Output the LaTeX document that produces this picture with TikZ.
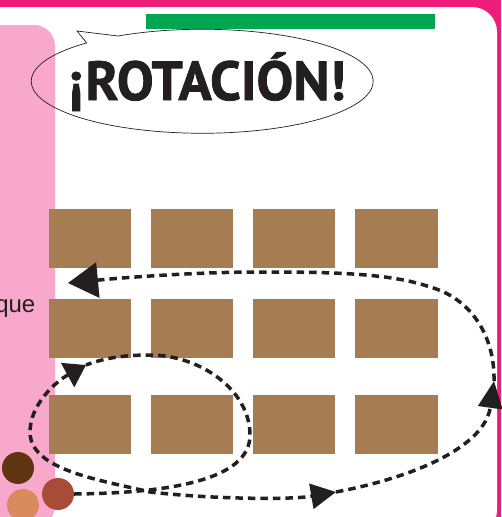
\documentclass[tikz,border=0pt]{standalone}
\usepackage{fontspec}
\setmainfont{Liberation Sans}
\newfontfamily\titlefont{PT Sans}[BoldFeatures={FakeBold=1.4}]
\usetikzlibrary{arrows.meta, positioning}
\definecolor{frame}{HTML}{ED1E79}
\definecolor{panel}{HTML}{F7A8CB}
\definecolor{bar}{HTML}{00A650}
\definecolor{brickbrown}{HTML}{A67C52}
\definecolor{ink}{HTML}{231F20}
\definecolor{beaddark}{HTML}{5E3510}
\definecolor{beadtan}{HTML}{DA8B5D}
\definecolor{beadrust}{HTML}{A84B37}

\begin{document}
\begin{tikzpicture}[x=1pt,y=-1pt,
	brick/.style={fill=brickbrown, minimum width=82.5pt, minimum height=59pt, inner sep=0pt},
	bead/.style={circle, minimum size=32pt, inner sep=0pt},
	route/.style={ink, line width=3.5pt, dash pattern=on 7.5pt off 5pt}]
	\useasboundingbox (0,0) rectangle (501,517);
	\fill[frame] (0,0) rectangle (501,517);
	\fill[white, rounded corners=25pt] (-40,7) rectangle (497,535);
	\fill[panel, rounded corners=21pt] (-40,25) rectangle (55,527);
	\fill[bar] (146,14) rectangle (435,29);
	\draw[ink, line width=0.7pt] (118,36) arc[start angle=-119.5, end angle=227.5, x radius=171, y radius=52] -- (77,31) -- cycle;
	\node[anchor=base, inner sep=0pt, text=ink, font=\titlefont\bfseries\fontsize{55}{55}\selectfont] (titulo) at (207.5,100) {¡ROTACIÓN!};
	\node[anchor=base east, inner sep=0pt, text=ink, font=\fontsize{24}{24}\selectfont] (texto) at (35.5,312) {que};
	\foreach \y/\r in {238.5/1, 328.5/2, 424.5/3}
		\foreach \x/\c in {90/1, 192/2, 294/3, 396.5/4}
			\node[brick] (b\r\c) at (\x,\y) {};
	\node[bead, fill=beaddark] (bead1) at (18,468) {};
	\node[bead, fill=beadtan] (bead2) at (23,505) {};
	\node[bead, fill=beadrust] (bead3) at (58,494) {};
	\coordinate (turn) at (86,365);
	\coordinate (bottomtip) at (336,492);
	\coordinate (sidetip) at (494,381);
	\coordinate (rowtwo) at (68,283);
	\draw[route] (bead3.east) .. controls (170,493) and (250,480) .. (250,435) .. controls (250,390) and (200,355) .. (150,355) .. controls (120,355) and (102,359) .. (turn);
	\draw[route, {Triangle[length=21pt,width=27pt]}-{Triangle[length=25pt,width=25pt]}] (turn) .. controls (55,382) and (30,405) .. (30,432) .. controls (30,470) and (100,480) .. (150,492) .. controls (210,499) and (290,500) .. (bottomtip);
	\draw[route, -{Triangle[length=27pt,width=24pt]}] (bottomtip) .. controls (420,476) and (485,445) .. (sidetip);
	\draw[route, -{Triangle[length=30pt,width=35pt]}] (sidetip) .. controls (495,335) and (470,298) .. (430,287) .. controls (390,273) and (330,272) .. (260,272) .. controls (200,272) and (130,277) .. (rowtwo);
\end{tikzpicture}
\end{document}
